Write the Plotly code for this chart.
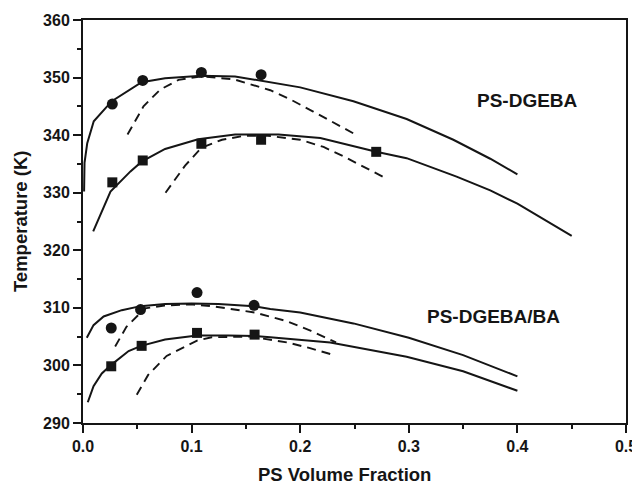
import plotly.graph_objects as go

# ---- PS-DGEBA (upper system) ----
dg_circ_x = [0.027, 0.055, 0.109, 0.164]
dg_circ_y = [345.4, 349.5, 350.9, 350.5]
dg_sq_x = [0.027, 0.055, 0.109, 0.164, 0.270]
dg_sq_y = [331.8, 335.6, 338.5, 339.2, 337.1]

dg_solid1_x = [0.001, 0.0014, 0.0039, 0.0099, 0.0265, 0.054, 0.0756, 0.109, 0.140, 0.1725, 0.200, 0.249, 0.298, 0.341, 0.375, 0.400]
dg_solid1_y = [330.2, 335.2, 338.6, 342.4, 345.9, 349.2, 349.9, 350.3, 350.2, 349.2, 348.3, 345.9, 342.8, 339.2, 335.9, 333.2]
dg_dash1_x = [0.041, 0.0557, 0.071, 0.088, 0.109, 0.139, 0.1725, 0.191, 0.212, 0.231, 0.252]
dg_dash1_y = [340.1, 345.0, 347.9, 349.6, 350.2, 349.7, 347.8, 346.2, 344.1, 342.1, 340.0]

dg_solid2_x = [0.0094, 0.0253, 0.0437, 0.054, 0.0756, 0.106, 0.140, 0.180, 0.2185, 0.270, 0.298, 0.344, 0.375, 0.400, 0.450]
dg_solid2_y = [323.3, 330.2, 333.7, 335.4, 337.6, 339.3, 340.1, 340.1, 339.5, 337.1, 336.0, 332.8, 330.4, 328.1, 322.5]
dg_dash2_x = [0.076, 0.094, 0.109, 0.128, 0.149, 0.170, 0.200, 0.2215, 0.240, 0.258, 0.278]
dg_dash2_y = [330.0, 334.7, 337.8, 339.2, 339.9, 339.9, 339.2, 337.95, 336.3, 334.5, 332.6]

# ---- PS-DGEBA/BA (lower system) ----
ba_circ_x = [0.026, 0.053, 0.105, 0.1575]
ba_circ_y = [306.5, 309.7, 312.65, 310.45]
ba_sq_x = [0.026, 0.054, 0.105, 0.158]
ba_sq_y = [299.85, 303.4, 305.65, 305.35]

ba_solid1_x = [0.0035, 0.0097, 0.019, 0.0357, 0.053, 0.0756, 0.100, 0.1247, 0.1575, 0.1725, 0.200, 0.249, 0.300, 0.350, 0.400]
ba_solid1_y = [304.8, 307.0, 308.5, 309.6, 310.3, 310.65, 310.75, 310.65, 310.3, 309.8, 309.2, 307.3, 304.8, 301.8, 298.1]
ba_dash1_x = [0.0296, 0.040, 0.057, 0.075, 0.100, 0.1185, 0.158, 0.1875, 0.210, 0.233]
ba_dash1_y = [303.3, 306.7, 309.9, 310.4, 310.6, 310.3, 309.2, 307.7, 306.0, 304.0]

ba_solid2_x = [0.0044, 0.0097, 0.0173, 0.026, 0.042, 0.0535, 0.0756, 0.105, 0.134, 0.158, 0.1725, 0.2277, 0.298, 0.350, 0.400]
ba_solid2_y = [293.6, 296.4, 298.6, 300.1, 302.5, 303.4, 304.5, 305.2, 305.2, 305.1, 304.9, 304.0, 301.5, 299.0, 295.6]
ba_dash2_x = [0.0495, 0.060, 0.077, 0.094, 0.105, 0.1185, 0.154, 0.188, 0.209, 0.231]
ba_dash2_y = [294.9, 298.35, 301.65, 303.3, 304.3, 304.9, 305.0, 304.0, 303.0, 301.8]

x_ticks = [0.0, 0.1, 0.2, 0.3, 0.4, 0.5]
x_tick_text = ["0.0", "0.1", "0.2", "0.3", "0.4", "0.5"]
y_ticks = [290, 300, 310, 320, 330, 340, 350, 360]

INK = "#151515"
FONT = "Liberation Sans, Arial, sans-serif"

fig = go.Figure()

def line(x, y, dashed=False):
    fig.add_trace(go.Scatter(
        x=x, y=y, mode="lines",
        line=dict(color=INK, width=1.9 if dashed else 2.0,
                  dash="9px,6px" if dashed else "solid"),
        showlegend=False, hoverinfo="skip"))

def pts(x, y, symbol, size):
    fig.add_trace(go.Scatter(
        x=x, y=y, mode="markers",
        marker=dict(symbol=symbol, size=size, color=INK, line=dict(width=0)),
        showlegend=False, hoverinfo="skip"))

line(dg_solid1_x, dg_solid1_y)
line(dg_dash1_x, dg_dash1_y, True)
line(dg_solid2_x, dg_solid2_y)
line(dg_dash2_x, dg_dash2_y, True)
line(ba_solid1_x, ba_solid1_y)
line(ba_dash1_x, ba_dash1_y, True)
line(ba_solid2_x, ba_solid2_y)
line(ba_dash2_x, ba_dash2_y, True)

pts(dg_circ_x, dg_circ_y, "circle", 11)
pts(dg_sq_x, dg_sq_y, "square", 10)
pts(ba_circ_x, ba_circ_y, "circle", 11)
pts(ba_sq_x, ba_sq_y, "square", 10)

fig.add_annotation(x=0.4094, y=346.0, text="<b>PS-DGEBA</b>", showarrow=False,
                   font=dict(family=FONT, size=19, color=INK))
fig.add_annotation(x=0.378, y=308.5, text="<b>PS-DGEBA/BA</b>", showarrow=False,
                   font=dict(family=FONT, size=19, color=INK))

# axis titles
fig.add_annotation(xref="paper", yref="paper", x=0.481, y=-0.1565,
                   xanchor="center", yanchor="bottom", borderpad=0,
                   text="<b>PS Volume Fraction</b>", showarrow=False,
                   font=dict(family=FONT, size=18.5, color=INK))
fig.add_annotation(xref="paper", yref="paper", x=-0.115, y=0.5, textangle=-90,
                   xanchor="center", yanchor="middle",
                   text="<b>Temperature (K)</b>", showarrow=False,
                   font=dict(family=FONT, size=18.5, color=INK))

tickfont = dict(family=FONT, size=16, color=INK, weight="bold")

fig.update_xaxes(
    range=[0, 0.5], tickvals=x_ticks, ticktext=x_tick_text, automargin=False,
    showline=True, linewidth=2, linecolor=INK, mirror=True,
    ticks="outside", ticklen=8, tickwidth=2, tickcolor=INK,
    minor=dict(ticks="outside", ticklen=4, tickwidth=1.5, tickcolor=INK, dtick=0.05, showgrid=False),
    showgrid=False, zeroline=False,
    tickfont=tickfont,
)
fig.update_yaxes(
    range=[290, 360], tickvals=y_ticks, automargin=False,
    showline=True, linewidth=2, linecolor=INK, mirror=True,
    ticks="outside", ticklen=8, tickwidth=2, tickcolor=INK,
    minor=dict(ticks="outside", ticklen=4, tickwidth=1.5, tickcolor=INK, dtick=5, showgrid=False),
    showgrid=False, zeroline=False,
    tickfont=tickfont,
)

# page body has an 8px margin, so the figure is sized/offset to land on the window
fig.update_layout(
    width=632, height=478,
    margin=dict(l=75, r=14, t=12, b=63),
    plot_bgcolor="white", paper_bgcolor="white",
    font=dict(family=FONT, color=INK),
    showlegend=False,
)

fig.write_html("out.html")
